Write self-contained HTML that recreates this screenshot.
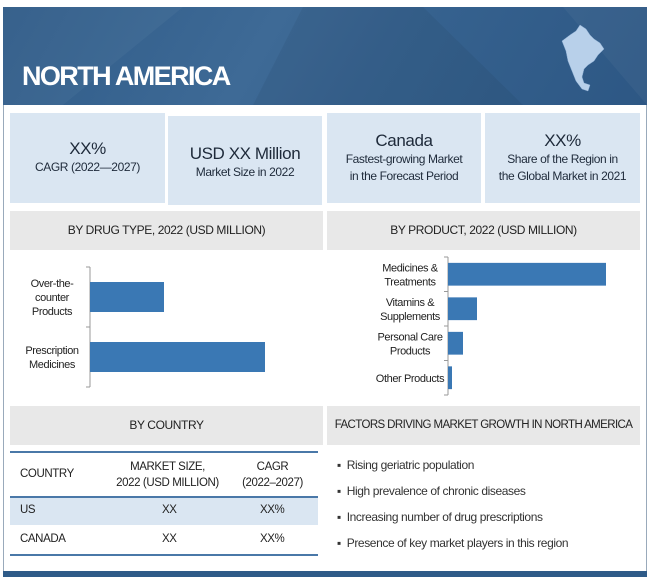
<!DOCTYPE html>
<html><head><meta charset="utf-8"><style>
*{margin:0;padding:0;box-sizing:border-box}
body{width:650px;height:577px;background:#fff;position:relative;overflow:hidden;font-family:"Liberation Sans",sans-serif;color:#222;letter-spacing:-0.4px}
.a{position:absolute}
.kpi{position:absolute;background:#dae6f2;text-align:center;color:#1e2a3a}
.kpi .big{font-size:17px;margin-top:26px}
.kpi .sm{font-size:12px;line-height:17px}
.hdr{position:absolute;background:#e8e8e8;text-align:center;font-size:12px;color:#222;white-space:nowrap}
</style></head><body>
<div class="a" style="left:3px;top:7px;width:644px;height:570px;border:1px solid #9ab;"></div>
<div class="a" style="left:3px;top:7px;width:644px;height:98px;background:linear-gradient(120deg,#2f5b88 0%,#3e6a96 40%,#36628f 60%,#2d5784 100%);overflow:hidden">
<svg width="644" height="98" style="position:absolute;left:0;top:0"><polygon points="0,0 180,0 60,98 0,98" fill="#ffffff" opacity="0.04"/><polygon points="300,0 420,0 520,98 250,98" fill="#000" opacity="0.05"/><polygon points="560,0 644,0 644,98" fill="#fff" opacity="0.04"/></svg>
<div class="a" style="left:19px;top:54px;font-size:27px;font-weight:bold;color:#fff;letter-spacing:-1.6px">NORTH AMERICA</div>
<svg class="a" style="left:555px;top:14px" width="50" height="76" viewBox="0 0 50 76"><path d="M4,20 L12,14 L18,10 L22,4 L28,8 L32,14 L36,18 L42,22 L46,28 L40,34 L36,40 L30,44 L26,48 L24,56 L26,62 L32,64 L30,70 L24,68 L18,60 L14,50 L10,40 L8,30 Z" fill="#b8d0ea" stroke="#8fb0d4" stroke-width="0.5"/></svg>
</div>
<div class="kpi" style="left:10px;top:113px;width:155px;height:90px"><div class="big">XX%</div><div class="sm">CAGR (2022—2027)</div></div>
<div class="kpi" style="left:168px;top:116px;width:154px;height:89px"><div class="big" style="margin-top:28px">USD XX Million</div><div class="sm">Market Size in 2022</div></div>
<div class="kpi" style="left:327px;top:113px;width:154px;height:90px"><div class="big" style="margin-top:18px">Canada</div><div class="sm">Fastest-growing Market<br>in the Forecast Period</div></div>
<div class="kpi" style="left:485px;top:113px;width:155px;height:90px"><div class="big" style="margin-top:18px">XX%</div><div class="sm">Share of the Region in<br>the Global Market in 2021</div></div>
<div class="hdr" style="left:10px;top:211px;width:313px;height:39px;line-height:39px">BY DRUG TYPE, 2022 (USD MILLION)</div>
<div class="hdr" style="left:327px;top:211px;width:313px;height:39px;line-height:39px">BY PRODUCT, 2022 (USD MILLION)</div>
<svg id="c1" class="a" style="left:0;top:250px" width="325" height="150"></svg>
<svg id="c2" class="a" style="left:325px;top:250px" width="325" height="150"></svg>
<div class="hdr" style="left:10px;top:406px;width:313px;height:39px;line-height:39px">BY COUNTRY</div>
<div class="hdr" style="left:327px;top:406px;width:313px;height:39px;line-height:39px;font-size:11.5px;letter-spacing:-0.6px">FACTORS DRIVING MARKET GROWTH IN NORTH AMERICA</div>
<div class="a" style="left:10px;top:451px;width:308px;height:105px;font-size:11.5px">
<div class="a" style="left:0;top:0;width:308px;height:2px;background:#4a78a8"></div>
<div class="a" style="left:10px;top:17px">COUNTRY</div>
<div class="a" style="left:100px;top:8px;width:115px;text-align:center;line-height:16px">MARKET SIZE,<br>2022 (USD MILLION)</div>
<div class="a" style="left:220px;top:8px;width:85px;text-align:center;line-height:16px">CAGR<br>(2022–2027)</div>
<div class="a" style="left:0;top:45px;width:308px;height:2px;background:#4a78a8"></div>
<div class="a" style="left:0;top:47px;width:308px;height:27px;background:#dae6f2"><span class="a" style="left:10px;top:6px">US</span><span class="a" style="left:152px;top:6px">XX</span><span class="a" style="left:250px;top:6px">XX%</span></div>
<div class="a" style="left:0;top:74px;width:308px;height:29px"><span class="a" style="left:10px;top:8px">CANADA</span><span class="a" style="left:152px;top:8px">XX</span><span class="a" style="left:250px;top:8px">XX%</span></div>
<div class="a" style="left:0;top:103px;width:308px;height:2px;background:#4a78a8"></div>
</div>
<div class="a" style="left:337px;top:452px;font-size:12px;color:#333;line-height:26px;white-space:nowrap">
<div>▪&nbsp; Rising geriatric population</div>
<div>▪&nbsp; High prevalence of chronic diseases</div>
<div>▪&nbsp; Increasing number of drug prescriptions</div>
<div>▪&nbsp; Presence of key market players in this region</div>
</div>
<div class="a" style="left:3px;top:571px;width:644px;height:6px;background:#2f5b88"></div>
<script>
const drugCats=["Over-the-\ncounter\nProducts","Prescription\nMedicines"];
const drugVals=[74,175];
const prodCats=["Medicines &\nTreatments","Vitamins &\nSupplements","Personal Care\nProducts","Other Products"];
const prodVals=[158,29,15,4];
const NS="http://www.w3.org/2000/svg";
function chart(svg,cats,vals,ax,top,bottom,barFrac,pxPerUnit,name,labelCx){
  const bandH=(bottom-top)/cats.length;
  const ln=document.createElementNS(NS,"line");
  
  
  ln.setAttribute("x1",ax);ln.setAttribute("x2",ax);ln.setAttribute("y1",top);ln.setAttribute("y2",bottom);ln.setAttribute("stroke","#999");
  svg.appendChild(ln);
  for(let i=0;i<=cats.length;i++){const t=document.createElementNS(NS,"line");
    
    
    t.setAttribute("x1",ax-4);t.setAttribute("x2",ax);t.setAttribute("y1",top+i*bandH);t.setAttribute("y2",top+i*bandH);t.setAttribute("stroke","#999");svg.appendChild(t);}
  cats.forEach((c,i)=>{
    const h=bandH*barFrac,y=top+i*bandH+(bandH-h)/2;
    const r=document.createElementNS(NS,"rect");
    
    
    r.setAttribute("x",ax);r.setAttribute("y",y);r.setAttribute("width",vals[i]*pxPerUnit);r.setAttribute("height",h);r.setAttribute("fill","#3a78b4");
    svg.appendChild(r);
    const lines=c.split("\n");
    const tx=document.createElementNS(NS,"text");
    
    
    tx.setAttribute("text-anchor","middle");tx.setAttribute("font-size","11");tx.setAttribute("fill","#222");
    tx.setAttribute("letter-spacing","-0.4");
    tx.setAttribute("font-family","Liberation Sans, sans-serif");
    const cy=top+i*bandH+bandH/2-(lines.length-1)*7+4;
    lines.forEach((l,j)=>{const s=document.createElementNS(NS,"tspan");s.setAttribute("x",ax-labelCx);s.setAttribute("y",cy+j*14);s.textContent=l;tx.appendChild(s);});
    svg.appendChild(tx);
  });
}
chart(document.getElementById("c1"),drugCats,drugVals,90,17,137,0.5,1,"drug",38);
chart(document.getElementById("c2"),prodCats,prodVals,123,7,145,0.66,1,"product",38);
</script>
</body></html>
